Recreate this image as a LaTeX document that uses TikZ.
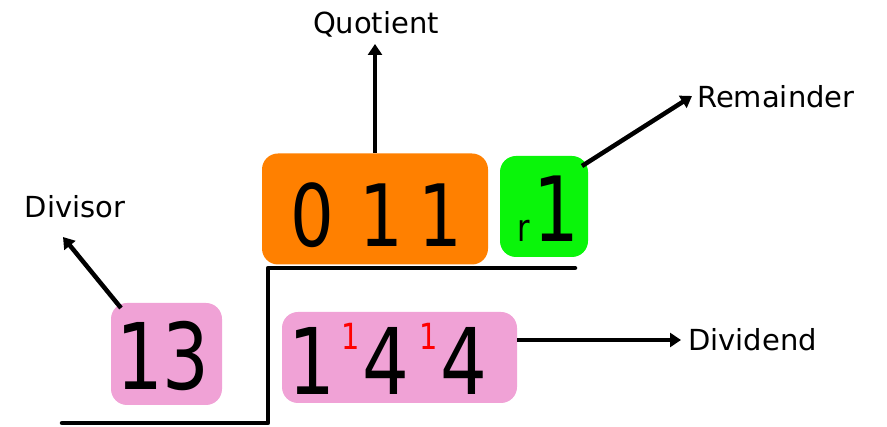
\documentclass[tikz,border=0pt]{standalone}
\usepackage{fontspec}
\setmainfont{DejaVu Sans}
\newfontfamily\digitfont[FakeStretch=0.8]{DejaVu Sans}
\usetikzlibrary{arrows.meta}
\definecolor{qorange}{RGB}{255,128,0}
\definecolor{rgreen}{RGB}{10,245,10}
\definecolor{npink}{RGB}{240,162,214}
\begin{document}
\begin{tikzpicture}[x=1pt,y=-1pt,
  box/.style={rounded corners=16pt, inner sep=0pt, draw=none},
  digit/.style={anchor=base, inner sep=0pt, font=\digitfont\fontsize{#1}{#1}\selectfont},
  carry/.style={anchor=base, inner sep=0pt, text=red, font=\digitfont\fontsize{36}{36}\selectfont},
  lbl/.style={inner sep=0pt, font=\fontsize{29}{29}\selectfont},
  arr/.style={line width=4.5pt, -{Triangle[length=11pt,width=14pt]}},
  bar/.style={line width=4.5pt, line cap=round, line join=round}]
\useasboundingbox (0,0) rectangle (887,427);

% coloured boxes
\node[box, fill=qorange, minimum width=226pt, minimum height=111pt] (q) at (375,209) {};
\node[box, fill=rgreen, minimum width=88pt, minimum height=101pt] (r) at (544,206.5) {};
\node[box, fill=npink, minimum width=111pt, minimum height=102pt] (d) at (166.5,354) {};
\node[box, fill=npink, minimum width=235pt, minimum height=91pt] (n) at (399.5,357.5) {};

% long division bracket
\coordinate (b1) at (575,268);
\coordinate (b2) at (268,268);
\coordinate (b3) at (268,423);
\coordinate (b4) at (62,423);
\draw[bar] (b1) -- (b2) -- (b3) -- (b4);

% quotient digits
\node[digit=86] (q0) at (312,247) {0};
\node[digit=86] (q1) at (381,247) {1};
\node[digit=86] (q2) at (440,247) {1};

% remainder
\node[digit=38] (rr) at (524,242) {r};
\node[digit=90] (r1) at (556,242) {1};

% divisor
\node[digit=92] (d1) at (140,390) {1};
\node[digit=92] (d3) at (186,390) {3};

% dividend with carried ones
\node[digit=92] (n1) at (312,395) {1};
\node[digit=92] (n2) at (386,395) {4};
\node[digit=92] (n3) at (464,395) {4};
\node[carry] (c1) at (351,350) {1};
\node[carry] (c2) at (429,350) {1};

% labels
\node[lbl] (quot) at (376,24) {Quotient};
\node[lbl, anchor=west] (rem) at (697,97) {Remainder};
\node[lbl] (dvs) at (75,207) {Divisor};
\node[lbl, anchor=west] (dvd) at (688,340) {Dividend};

% pointers
\coordinate (qs) at (375,153);
\coordinate (rs) at (582,166);
\coordinate (ds) at (121,308);
\coordinate (ns) at (517,340);
\draw[arr] (qs) -- (375,44) coordinate (qt);
\draw[arr] (rs) -- (692,96) coordinate (rt);
\draw[arr] (ds) -- (63,237) coordinate (dt);
\draw[arr] (ns) -- (681,340) coordinate (nt);
\end{tikzpicture}
\end{document}
